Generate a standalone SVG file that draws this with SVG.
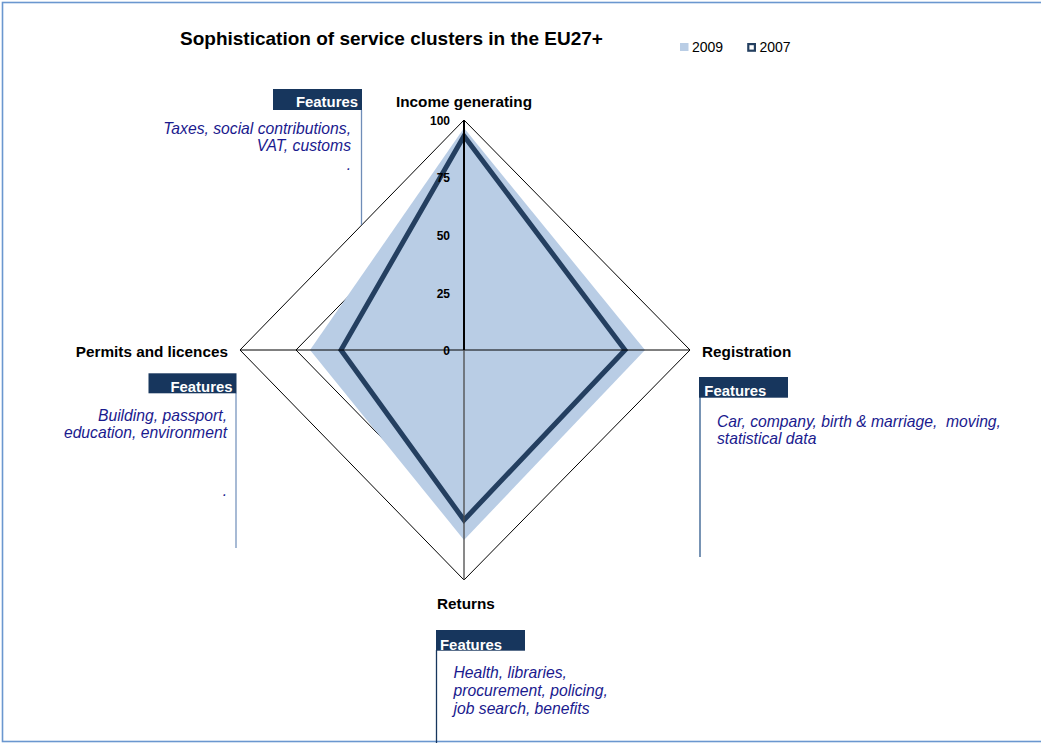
<svg xmlns="http://www.w3.org/2000/svg" width="1041" height="743" viewBox="0 0 1041 743">
<style>
.title{font-family:"Liberation Sans",Arial,sans-serif;font-weight:bold;font-size:19px;fill:#000}
.axis{font-family:"Liberation Sans",Arial,sans-serif;font-weight:bold;font-size:15.3px;fill:#000}
.tick{font-family:"Liberation Sans",Arial,sans-serif;font-weight:bold;font-size:12px;fill:#000;text-anchor:end}
.leg{font-family:"Liberation Sans",Arial,sans-serif;font-size:14px;fill:#000}
.fh{font-family:"Liberation Sans",Arial,sans-serif;font-weight:bold;font-size:14.9px;fill:#fff}
.ft{font-family:"Liberation Sans",Arial,sans-serif;font-style:italic;font-size:15.7px;fill:#1A1A8E}
.fbox{fill:#17365D}
.grid{fill:none;stroke:#000;stroke-width:1}
</style>
<rect x="2.5" y="2.5" width="1045" height="739" fill="#fff" stroke="#6A97CF" stroke-width="1.6"/>
<g id="title"><text class="title" x="180" y="45">Sophistication of service clusters in the EU27+</text></g>
<g id="legend">
<rect x="680" y="43" width="8.5" height="8" fill="#B9CDE5"/>
<text class="leg" x="692" y="51.5">2009</text>
<rect x="748.3" y="44.1" width="6.6" height="6.6" fill="#fff" stroke="#243F60" stroke-width="2.2"/>
<text class="leg" x="759.5" y="51.5">2007</text>
</g>
<g id="radar">
<polygon class="grid" points="464,178 633,350 464,522 296,350"/>
<polygon points="464,128 645,350 464,540 310,350" fill="#B9CDE5"/>
<polygon class="grid" points="464,120 690,350 464,580 240,350"/>
<polygon points="464,136 625,350 464,520 341,350" fill="none" stroke="#243F60" stroke-width="5" stroke-linejoin="miter" stroke-miterlimit="10"/>
<line x1="240" y1="350" x2="690" y2="350" stroke="#000" stroke-width="1"/>
<line x1="464" y1="350" x2="464" y2="580" stroke="#4A4A4A" stroke-width="1.3"/>
<line x1="464" y1="120" x2="464" y2="350" stroke="#000" stroke-width="2"/>
<text class="tick" x="450" y="124.5">100</text>
<text class="tick" x="450" y="182">75</text>
<text class="tick" x="450" y="240">50</text>
<text class="tick" x="450" y="297.5">25</text>
<text class="tick" x="450" y="355">0</text>
</g>
<g id="axis-income"><text class="axis" x="464" y="107" text-anchor="middle">Income generating</text></g>
<g id="axis-registration"><text class="axis" x="702" y="356.5">Registration</text></g>
<g id="axis-returns"><text class="axis" x="437" y="609">Returns</text></g>
<g id="axis-permits"><text class="axis" x="228" y="356.5" text-anchor="end">Permits and licences</text></g>
<g id="connectors">
<line x1="361.5" y1="110" x2="361.5" y2="225" stroke="#6F8DB8" stroke-width="1.3"/>
<line x1="236" y1="393" x2="236" y2="548" stroke="#7895BE" stroke-width="1.3"/>
<line x1="700" y1="397" x2="700" y2="557" stroke="#2F5A8C" stroke-width="1.3"/>
<line x1="436.5" y1="650" x2="436.5" y2="743" stroke="#17365D" stroke-width="1.3"/>
</g>
<g id="features-income">
<rect class="fbox" x="273" y="89" width="89" height="21"/>
<text class="fh" x="358" y="107" text-anchor="end">Features</text>
<text class="ft" x="351" y="133.5" text-anchor="end">Taxes, social contributions,</text>
<text class="ft" x="351" y="151" text-anchor="end">VAT, customs</text>
<text class="ft" x="351" y="170" text-anchor="end">.</text>
</g>
<g id="features-permits">
<rect class="fbox" x="148.5" y="373.3" width="88" height="20"/>
<text class="fh" x="232.5" y="392" text-anchor="end">Features</text>
<text class="ft" x="227" y="420.5" text-anchor="end">Building, passport,</text>
<text class="ft" x="227" y="438" text-anchor="end">education, environment</text>
<text class="ft" x="227" y="496" text-anchor="end">.</text>
</g>
<g id="features-registration">
<rect class="fbox" x="699" y="377" width="89" height="20.7"/>
<text class="fh" x="704.3" y="396">Features</text>
<text class="ft" x="717" y="426.5" xml:space="preserve">Car, company, birth &amp; marriage,  moving,</text>
<text class="ft" x="717" y="444">statistical data</text>
</g>
<g id="features-returns">
<rect class="fbox" x="436" y="630" width="89" height="20.7"/>
<text class="fh" x="440" y="649.5">Features</text>
<text class="ft" x="453.5" y="678">Health, libraries,</text>
<text class="ft" x="453.5" y="696">procurement, policing,</text>
<text class="ft" x="453.5" y="714">job search, benefits</text>
</g>
</svg>
